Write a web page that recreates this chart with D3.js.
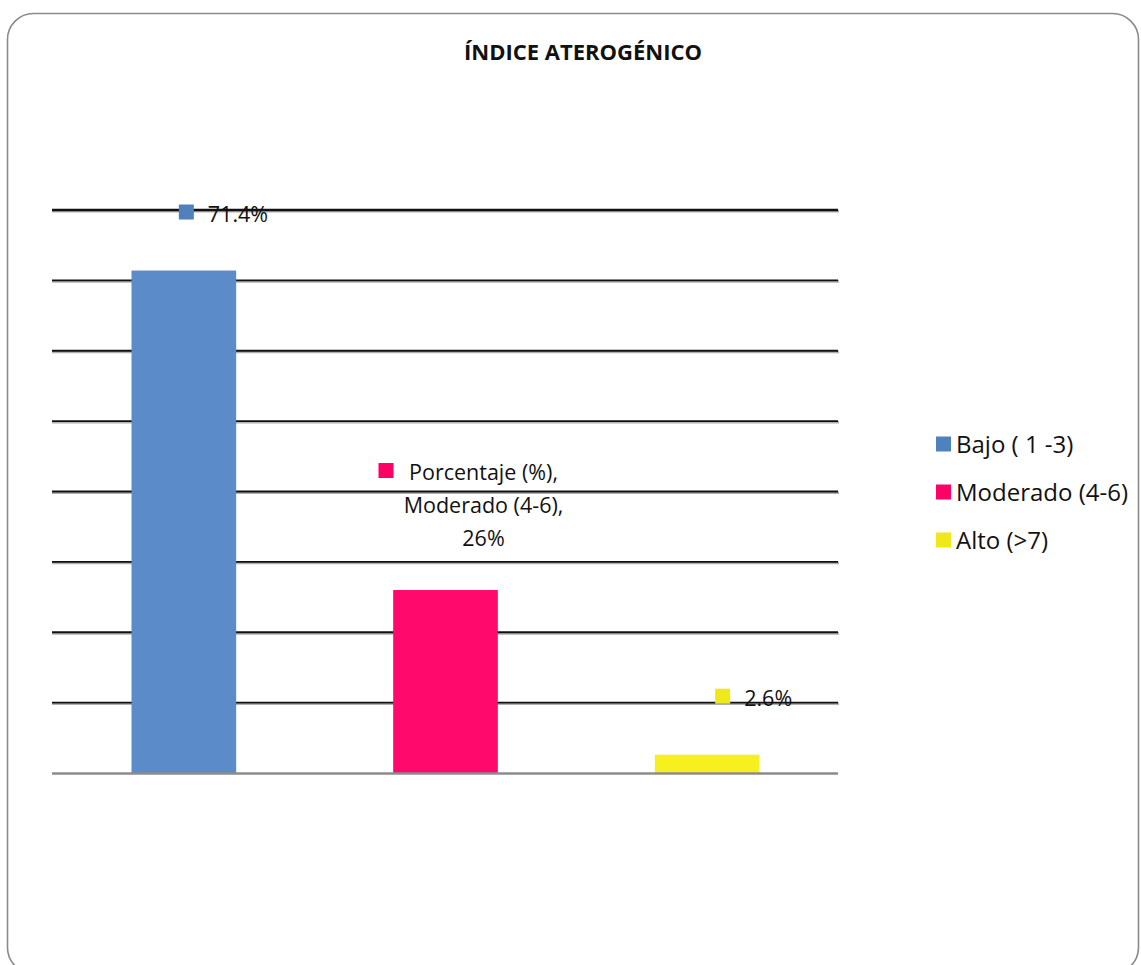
<!DOCTYPE html>
<html>
<head>
<meta charset="utf-8">
<script src="https://cdn.jsdelivr.net/npm/d3@7"></script>
<style>
  html, body { margin: 0; padding: 0; background: #fff; }
  svg { display: block; }
  text { font-family: "Open Sans", Lato, sans-serif; fill: #111; }
</style>
</head>
<body>
<svg id="chart" width="1141" height="965"></svg>
<script>
// Índice aterogénico: distribución porcentual por categoría
const categories = ["Bajo ( 1 -3)", "Moderado (4-6)", "Alto (>7)"];
const values = [71.4, 26, 2.6];
const valueLabels = [["71.4%"], ["Porcentaje (%),", "Moderado (4-6),", "26%"], ["2.6%"]];
const gridTicks = [10, 20, 30, 40, 50, 60, 70, 80];
const barColors = ["#5b8bc8", "#ff0a6c", "#f5f01e"];
const keyColors = ["#4f81bd", "#ff0066", "#efe81a"];

const svg = d3.select("#chart");

// outer frame
svg.append("rect")
  .attr("x", 7.5).attr("y", 13.5)
  .attr("width", 1131).attr("height", 960)
  .attr("rx", 26).attr("ry", 26)
  .attr("fill", "#fff")
  .attr("stroke", "#8a8a8a").attr("stroke-width", 1.6);

// title
svg.append("text")
  .attr("x", 583).attr("y", 60)
  .attr("text-anchor", "middle")
  .attr("font-size", 22).attr("font-weight", "bold")
  .text("ÍNDICE ATEROGÉNICO");

const x = d3.scaleBand().domain(categories)
  .range([53, 838]).paddingInner(0.6).paddingOuter(0.3);
const y = d3.scaleLinear().domain([0, 80]).range([773, 210]);

// gridlines with soft shadow
const grid = svg.append("g");
grid.selectAll("line.shadow").data(gridTicks).join("line")
  .attr("class", "shadow")
  .attr("x1", 52).attr("x2", 839)
  .attr("y1", d => y(d) + 1.2).attr("y2", d => y(d) + 1.2)
  .attr("stroke", "#b0b0b0").attr("stroke-width", 2.5);
grid.selectAll("line.major").data(gridTicks).join("line")
  .attr("class", "major")
  .attr("x1", 52).attr("x2", 838)
  .attr("y1", d => y(d)).attr("y2", d => y(d))
  .attr("stroke", "#111")
  .attr("stroke-width", d => d === 80 ? 2.6 : 1.8);

// bars
svg.append("g").selectAll("rect").data(values).join("rect")
  .attr("x", (d, i) => x(categories[i]))
  .attr("y", d => y(d))
  .attr("width", x.bandwidth())
  .attr("height", d => y(0) - y(d))
  .attr("fill", (d, i) => barColors[i]);

// category axis baseline
svg.append("line")
  .attr("x1", 52).attr("x2", 838)
  .attr("y1", y(0) + 0.5).attr("y2", y(0) + 0.5)
  .attr("stroke", "#8c8c8c").attr("stroke-width", 2.6);

// data labels
const labelFont = 21.5;
const legendFont = 24;
const lineH = 33;
values.forEach((v, i) => {
  const cx = x(categories[i]) + x.bandwidth() / 2;
  const top = y(v);
  const lines = valueLabels[i];
  const g = svg.append("g");
  if (lines.length === 1) {
    const sqX = i === 0 ? cx - 5 : cx + 8;
    const baseY = top - 49;
    g.append("rect")
      .attr("x", sqX).attr("y", baseY - 17)
      .attr("width", 15).attr("height", 15)
      .attr("fill", keyColors[i]);
    g.append("text")
      .attr("x", sqX + 29).attr("y", baseY)
      .attr("font-size", labelFont)
      .text(lines[0]);
  } else {
    const tx = cx + 38;
    const lastBase = top - 44;
    lines.forEach((t, k) => {
      g.append("text")
        .attr("x", tx)
        .attr("y", lastBase - (lines.length - 1 - k) * lineH)
        .attr("text-anchor", "middle")
        .attr("font-size", labelFont)
        .text(t);
    });
    g.append("rect")
      .attr("x", cx - 67).attr("y", lastBase - 2 * lineH - 17)
      .attr("width", 15).attr("height", 15)
      .attr("fill", keyColors[i]);
  }
});

// legend
const legend = svg.append("g");
categories.forEach((c, i) => {
  const ly = 444 + i * 48;
  legend.append("rect")
    .attr("x", 936).attr("y", ly - 7.5)
    .attr("width", 15).attr("height", 15)
    .attr("fill", keyColors[i]);
  legend.append("text")
    .attr("x", 956).attr("y", ly + 8.5)
    .attr("font-size", legendFont)
    .text(c);
});
</script>
</body>
</html>
